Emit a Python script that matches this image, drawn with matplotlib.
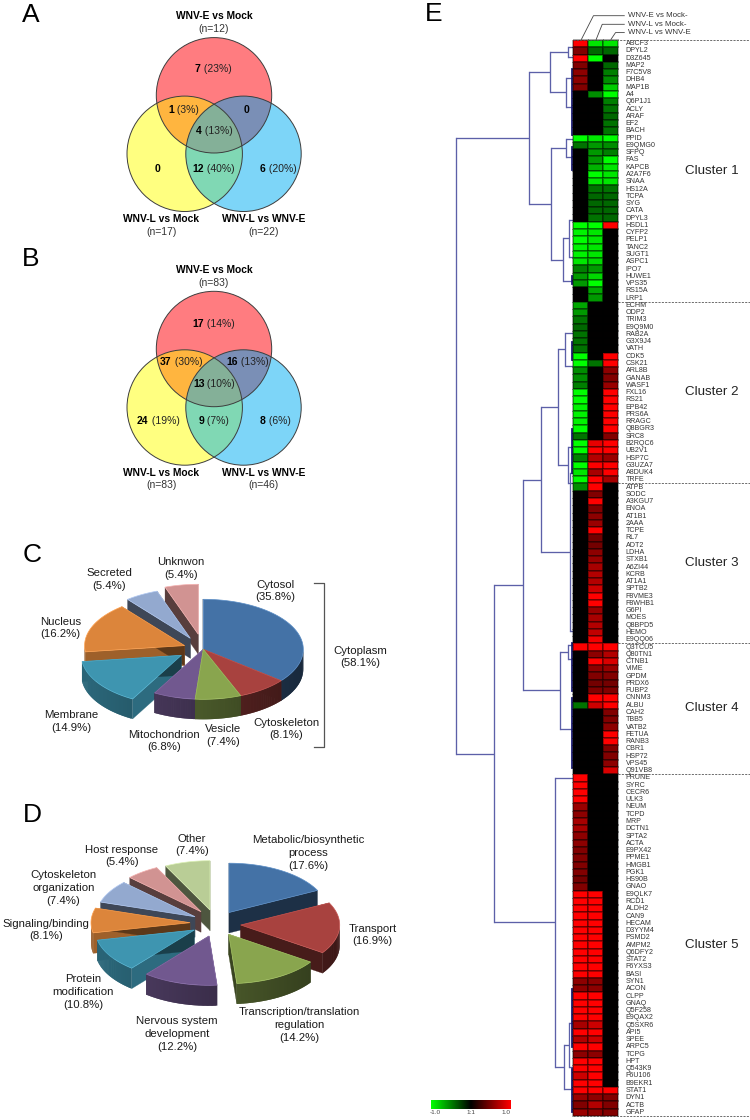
import numpy as np
import matplotlib
matplotlib.use("Agg")
import matplotlib.pyplot as plt
from matplotlib.colors import LinearSegmentedColormap, to_rgb
from matplotlib.patches import Circle, Polygon

plt.rcParams["font.family"] = ["Liberation Sans", "DejaVu Sans"]

# venn panels: E only, E+L, E+LvE, all three, L only, L+LvE, LvE only
venn_a_counts = [7, 1, 0, 4, 0, 12, 6]
venn_a_pct = [23, 3, None, 13, None, 40, 20]
venn_a_n = [12, 17, 22]
venn_b_counts = [17, 37, 16, 13, 24, 9, 8]
venn_b_pct = [14, 30, 13, 10, 19, 7, 6]
venn_b_n = [83, 83, 46]
venn_names = ["WNV-E vs Mock", "WNV-L vs Mock", "WNV-L vs WNV-E"]

# pies, clockwise from the top
loc_names = ["Cytosol", "Cytoskeleton", "Vesicle", "Mitochondrion", "Membrane",
             "Nucleus", "Secreted", "Unknwon"]
loc_values = [35.8, 8.1, 7.4, 6.8, 14.9, 16.2, 5.4, 5.4]
func_names = ["Metabolic/biosynthetic\nprocess", "Transport",
              "Transcription/translation\nregulation", "Nervous system\ndevelopment",
              "Protein\nmodification", "Signaling/binding",
              "Cytoskeleton\norganization", "Host response", "Other"]
func_values = [17.6, 16.9, 14.2, 12.2, 10.8, 8.1, 7.4, 5.4, 7.4]

# heatmap
proteins = [
    "ABCF3", "DPYL2", "D3Z645", "MAP2", "F7C5V8", "DHB4", "MAP1B", "A4", "Q6P1J1", "ACLY",
    "ARAF", "EF2", "BACH", "PPID", "E9QMG0", "SFPQ", "FAS", "KAPCB", "A2A7F6", "SNAA",
    "HS12A", "TCPA", "SYG", "CATA", "DPYL3", "HSDL1", "CYFP2", "PELP1", "TANC2", "SUGT1",
    "ASPC1", "IPO7", "HUWE1", "VPS35", "RS15A", "LRP1",
    "ECHM", "ODP2", "TRIM3", "E9Q9M0", "RAB2A", "G3X9J4", "VATH", "CDK5", "CSK21", "ARL8B",
    "GANAB", "WASF1", "FXL16", "RS21", "EPB42", "PRS6A", "RRAGC", "Q8BGR3", "SRC8", "B2RQC6",
    "UB2V1", "HSP7C", "G3UZA7", "A8DUK4", "TRFE",
    "ATPB", "SODC", "A3KGU7", "ENOA", "AT1B1", "2AAA", "TCPE", "RL7", "ADT2", "LDHA",
    "STXB1", "A6ZI44", "KCRB", "AT1A1", "SPTB2", "F8VME3", "F8WHB1", "G6PI", "MOES", "Q8BPD5",
    "HEMO", "E9QQ06",
    "Q3TCU5", "Q80TN1", "CTNB1", "VIME", "GPDM", "PRDX6", "FUBP2", "CNNM3", "ALBU", "CAH2",
    "TBB5", "VATB2", "FETUA", "RANB3", "CBR1", "HSP72", "VPS45", "Q91VB8",
    "PRUNE", "SYRC", "CECR6", "ULK3", "NEUM", "TCPD", "MRP", "DCTN1", "SPTA2", "ACTA",
    "E9PX42", "PPME1", "HMGB1", "PGK1", "HS90B", "GNAO", "E9QLK7", "RCD1", "ALDH2", "CAN9",
    "HECAM", "D3YYM4", "PSMD2", "AMPM2", "Q6DFY2", "STAT2", "F6YXS3", "BASI", "SYN1", "ACON",
    "CLPP", "GNAQ", "Q5F258", "E9QAX2", "Q5SXR6", "API5", "SPEE", "ARPC5", "TCPG", "HPT",
    "Q543K9", "F6U106", "B9EKR1", "STAT1", "DYN1", "ACTB", "GFAP",
]
e_vs_mock = [
    1, .5, 1, .5, .55, .55, .5, 0, 0, 0, 0, 0, 0, -1, -.45, 0, 0, 0, 0, 0,
    0, 0, 0, 0, 0, -1, -.95, -1, -.95, -.95, -.9, -.5, -.6, -.6, 0, 0,
    -.65, -.6, -.45, -.4, -.45, -.45, -.45, -1, -1, -.55, -.55, -.5, -1, -1, -.95, -.95, -.95, -1,
    -.45, -1, -1, -.5, -1, -.9, -1,
    -.55, 0, 0, 0, 0, 0, 0, 0, 0, 0, 0, 0, 0, 0, 0, 0, 0, 0, 0, 0, 0, 0,
    1, 0, 0, 0, 0, 0, 0, 0, -.45, 0, 0, 0, 0, 0, 0, 0, 0, 0,
    1, 1, 1, 1, .6, .55, .65, .65, .55, .55, .5, .5, .5, .5, .45, .5,
    1, 1, 1, 1, 1, 1, 1, 1, 1, 1, 1, 1, .55, .55, 1, 1, 1, 1, .65, 1, .7, 1, .55, 1,
    1, .8, 1, 1, .6, .5, .6,
]
l_vs_mock = [
    -.9, -.4, -1, 0, 0, 0, 0, -.55, 0, 0, 0, 0, 0, -.9, -.6, -.6, -.6, -.7, -1, -.9,
    -.45, -.4, -.4, -.4, -.45, -1, -.9, -.9, -.9, -.9, -.85, -.6, -.85, -1, -.65, -.6,
    0, 0, 0, 0, 0, 0, 0, 0, -.45, 0, 0, 0, 0, 0, 0, 0, 0, 0,
    0, .9, 1, .7, 1, .65, 1,
    1, .5, 1, .5, .55, .6, 1, .45, .45, .55, .6, .65, .7, .7, .8, 1, 1, .6, .65, .7, .75, .95,
    1, .55, 1, .55, .5, .45, .5, 1, .8, 0, 0, 0, 0, 0, 0, 0, 0, 0,
    0, 0, 0, 0, 0, 0, 0, 0, 0, 0, 0, 0, 0, 0, 0, 0,
    1, 1, 1, 1, 1, 1, 1, 1, 1, 1, 1, 1, .55, .55, 1, 1, 1, 1, .8, 1, .8, 1, .55, 1,
    1, 1, 1, 1, .55, .7, .55,
]
l_vs_e = [
    -.9, -.4, 0, -.4, -.5, -.55, -.8, -1, -.5, -.45, -.4, -.45, -.45, -1, -.55, -.5, -1, -.9, -.9, -.9,
    -.45, -.4, -.4, -.4, -.4, 1, 0, 0, 0, 0, 0, 0, 0, 0, 0, 0,
    0, 0, 0, 0, 0, 0, 0, 1, 1, .55, .5, .6, 1, 1, 1, 1, 1, 1,
    .5, 1, 1, .6, 1, 1, .65,
    0, 0, 0, 0, 0, 0, 0, 0, 0, 0, 0, 0, 0, 0, 0, 0, 0, 0, 0, 0, 0, 0,
    1, .7, .85, .6, .5, .45, .5, 1, 1, .5, .5, .55, 1, 1, .5, .5, .55, .85,
    0, 0, 0, 0, 0, 0, 0, 0, 0, 0, 0, 0, 0, 0, 0, 0,
    0, 0, 0, 0, 0, 0, 0, 0, 0, 0, 0, 0, 0, 0, 0, 0, 0, 0, 0, 0, 0, 0, 0, 0,
    0, 0, 0, 1, .5, .5, .5,
]
cluster_names = ["Cluster 1", "Cluster 2", "Cluster 3", "Cluster 4", "Cluster 5"]
cluster_sizes = [36, 25, 22, 18, 47]
column_names = ["WNV-E vs Mock-", "WNV-L vs Mock-", "WNV-L vs WNV-E"]

# dendrogram as nested (distance, child, child), a plain number is a row position
dendrogram = (117,
              (44,
               (23, (5, 0.46, 1.84), (7, 4.73, 8.7)),
               (22, (7, 13.1, 15.6), (10, (4, 24.3, 29.3), 32.65))),
              (79,
               (50,
                (32,
                 (15, (8, 39.8, 44.3), (5, 55.5, 60.5)),
                 (3, 59.06, 80.8)),
                (13, (5, 82.7, 84.6), 94.3)),
               (18, 101.0, (9, (4, 134.7, 140.8), 143.8))))
tight_rows = [(3.5, 12.5), (14.2, 17.4), (32, 33), (41, 43.5), (53, 59), (82.5, 89),
              (90, 99.6), (130, 138), (141, 147)]

TEXT = "#1a1a1a"
PIE_COLORS = ["#4472a6", "#a8423f", "#89a54e", "#71588f", "#3e95b0", "#dc853b",
              "#93a9cf", "#d19392", "#b9cd96"]

fig = plt.figure(figsize=(7.5, 11.2), dpi=100)
ax = fig.add_axes([0, 0, 1, 1])
ax.set_xlim(0, 750)
ax.set_ylim(1120, 0)
ax.axis("off")


def put(x, y, s, size=8.2, **kw):
    kw.setdefault("color", TEXT)
    ax.text(x, y, s, fontsize=size, ha="center", va="center", linespacing=1.36, **kw)


def count_label(x, y, count, pct):
    bold = ax.text(x, y, str(count), fontsize=7.5, fontweight="bold", color="black",
                   ha="left", va="center", zorder=6)
    if pct is None:
        bold.set_ha("center")
        return
    reg = ax.text(x, y, f" ({pct}%)", fontsize=7.5, color="#222222", ha="left", va="center", zorder=6)
    r = fig.canvas.get_renderer()
    w1 = bold.get_window_extent(r).width
    w2 = reg.get_window_extent(r).width
    left = x - (w1 + w2) / 2
    bold.set_x(left)
    reg.set_x(left + w1)


def venn(cy_top, counts, pct, ns, label_pos, title_y):
    r = 57.7
    top = (214, cy_top)
    left = (184.7, cy_top + 58.5)
    right = (243.5, cy_top + 58.5)
    fills = [(top, "#ff7c80"), (left, "#ffff80"), (right, "#7dd5f8")]
    for c, col in fills:
        ax.add_patch(Circle(c, r, fc=col, ec="none", zorder=2))
    # overlaps get their own fill, clipped to the partner circle
    for a, b, col in [(top, left, "#ffb53f"), (top, right, "#7a8fb6"), (left, right, "#80d8b4")]:
        p = Circle(a, r, fc=col, ec="none", zorder=3)
        ax.add_patch(p)
        p.set_clip_path(Circle(b, r, transform=ax.transData))
    p = Circle(top, r, fc="#84b098", ec="none", zorder=4)
    ax.add_patch(p)
    # centre region: top circle clipped to the lens of the two lower circles
    th = np.linspace(0, 2 * np.pi, 400)
    xs = left[0] + r * np.cos(th)
    ys = left[1] + r * np.sin(th)
    keep = (xs - right[0]) ** 2 + (ys - right[1]) ** 2 <= r * r
    lens_a = np.c_[xs[keep], ys[keep]]
    xs = right[0] + r * np.cos(th)
    ys = right[1] + r * np.sin(th)
    keep = (xs - left[0]) ** 2 + (ys - left[1]) ** 2 <= r * r
    lens_b = np.c_[xs[keep], ys[keep]]
    lens = np.r_[lens_a, lens_b]
    ang = np.arctan2(lens[:, 1] - left[1], lens[:, 0] - (left[0] + right[0]) / 2)
    lens = lens[np.argsort(ang)]
    p.set_clip_path(Polygon(lens, closed=True, transform=ax.transData))
    for c, col in fills:
        ax.add_patch(Circle(c, r, fc="none", ec="#3d3d3d", lw=0.7, zorder=5))
    for (x, y), cnt, pc in zip(label_pos, counts, pct):
        count_label(x, y, cnt, pc)
    for name, n, (tx, ty) in zip(venn_names, ns, title_y):
        put(tx, ty, name, size=7.4, fontweight="bold", color="black")
        put(tx, ty + 12.5, f"(n={n})", size=7.5, color="#333333")


def draw_pie(values, colors, center, shifts, rx, ry, depth):
    edges = np.r_[0, np.cumsum(values)] / np.sum(values) * 2 * np.pi
    slices = []
    for i in range(len(values)):
        th = np.linspace(edges[i], edges[i + 1], 60)
        cx, cy = center[0] + shifts[i][0], center[1] + shifts[i][1]
        arc = np.c_[cx + rx * np.sin(th), cy - ry * np.cos(th)]
        slices.append((np.r_[arc[:, 1], cy].mean(), cx, cy, arc, th, colors[i]))
    for _, cx, cy, arc, th, col in sorted(slices, key=lambda s: s[0]):
        base = np.array(to_rgb(col))
        for tip, angle in ((arc[0], th[0]), (arc[-1], None)):
            # a start edge in the lower left faces the light
            shade = 0.72 if angle is not None and np.pi < angle < 1.5 * np.pi else 0.42
            quad = [(cx, cy), tip, (tip[0], tip[1] + depth), (cx, cy + depth)]
            ax.add_patch(Polygon(quad, fc=base * shade, ec=base * shade, lw=0.2, zorder=3))
        for k in range(len(th) - 1):
            if np.cos((th[k] + th[k + 1]) / 2) > 0:
                continue
            shade = np.clip(0.53 - 0.17 * np.sin(th[k]), 0, 1)
            p0, p1 = arc[k], arc[min(k + 2, len(th) - 1)]
            quad = [p0, p1, (p1[0], p1[1] + depth), (p0[0], p0[1] + depth)]
            ax.add_patch(Polygon(quad, fc=base * shade, ec="none", zorder=3))
        top = np.r_[[(cx, cy)], arc]
        ax.add_patch(Polygon(top, fc=col, ec=np.minimum(base * 1.1 + 0.06, 1), lw=0.5, zorder=3))


# panels A and B
venn(95.3, venn_a_counts, venn_a_pct, venn_a_n,
     [(213.3, 68.7), (184, 110.3), (246.7, 110.3), (214.3, 131), (157.7, 168.7),
      (213.7, 168.7), (278, 168.7)],
     [(214, 16), (161.3, 219.3), (263.7, 219.3)])
venn(349, venn_b_counts, venn_b_pct, venn_b_n,
     [(214, 324.3), (181.3, 362.3), (247.7, 362.3), (214, 384.3), (158.3, 420.7),
      (214, 420.7), (275, 420.7)],
     [(214, 270), (161.3, 473), (263.7, 473)])

# panel C
draw_pie(loc_values, PIE_COLORS[:8], (203.3, 649.3),
         [(0, 0), (0, 0), (0, 0), (0, 0), (-22, 6), (-18.7, -3.7), (-13, -11), (-5, -15)],
         100, 50, 20)
loc_pos = [(275.3, 591), (286, 729), (223.3, 735.7), (164, 741), (71.7, 721.7),
           (60.7, 628), (109, 579.3), (181, 568.3)]
for (x, y), n, v in zip(loc_pos, loc_names, loc_values):
    put(x, y, f"{n}\n({v}%)")
ax.plot([314, 324, 324, 314], [583.3, 583.3, 747.3, 747.3], color="#555555", lw=0.9)
put(360, 657, "Cytoplasm\n(58.1%)")

# panel D
draw_pie(func_values, PIE_COLORS, (210, 918),
         [(19, -5.5), (30.7, 7), (18.7, 16.3), (-1, 18), (-15.7, 12), (-20, 4.7),
          (-15, -1.3), (-9, -6.3), (0, -8)],
         99, 49.3, 20.5)
func_pos = [(308.3, 852.7), (372.7, 935), (299, 1025), (177, 1034), (83, 991.7),
            (46, 930), (63.3, 887.7), (121.7, 856), (191.7, 845)]
for (x, y), n, v in zip(func_pos, func_names, func_values):
    put(x, y, f"{n}\n({v}%)")

# panel letters
for s, x, y in [("A", 31, 15), ("B", 31, 259), ("C", 32, 555.5), ("D", 32, 815.5), ("E", 434, 14)]:
    put(x, y, s, size=19, color="black")

# panel E heatmap
Y0, ROW = 40.0, 7.27
X0, COL = 573.3, 14.8
n_rows = len(proteins)
mat = np.column_stack([e_vs_mock, l_vs_mock, l_vs_e])
gmr = LinearSegmentedColormap.from_list("gmr", ["#00ff00", "#000000", "#ff0000"])
xe = X0 + COL * np.arange(4)
ye = Y0 + ROW * np.arange(n_rows + 1)
ax.pcolormesh(xe, ye, mat, cmap=gmr, vmin=-1, vmax=1, edgecolors="#00000055", linewidth=0.3, zorder=3)

for i, name in enumerate(proteins):
    ax.text(625.7, Y0 + ROW * (i + 0.5), name, fontsize=5.15, color="#333333",
            ha="left", va="center")

# column header leaders
header_y = [15.7, 24.3, 32.6]
for j, (name, y) in enumerate(zip(column_names, header_y)):
    xc = X0 + COL * (j + 0.55)
    ax.plot([xc, xc + [12, 6, 4.5][j], 624.3], [39.3, y, y], color="#444444", lw=0.6)
    ax.text(627.7, y, name, fontsize=5.7, color="#333333", ha="left", va="center")

# cluster boundaries and names
bounds = np.r_[0, np.cumsum(cluster_sizes)]
for k, b in enumerate(bounds):
    left = X0 if k in (0, len(bounds) - 1) else 618
    ax.plot([left, 750], [Y0 + ROW * b] * 2, color="#555555", lw=0.6, ls=(0, (2.5, 1.5)), zorder=4)
for name, y in zip(cluster_names, [171, 392, 563, 708, 945]):
    ax.text(685, y, name, fontsize=9.6, color="#222222", ha="left", va="center")


def row_y(r):
    return Y0 + ROW * (r + 0.5)


def draw_tree(node):
    if not isinstance(node, tuple):
        return X0, row_y(node)
    x = X0 - node[0]
    ys = []
    for child in node[1:]:
        cx, cy = draw_tree(child)
        ax.plot([x, cx], [cy, cy], color="#5c60a8", lw=0.95, zorder=2, solid_capstyle="butt")
        ys.append(cy)
    ax.plot([x, x], ys, color="#5c60a8", lw=0.95, zorder=2)
    return x, sum(ys) / 2


draw_tree(dendrogram)
for a, b in tight_rows:
    ax.plot([X0 - 1, X0 - 1], [row_y(a), row_y(b)], color="#1c1c78", lw=1.3, zorder=2)

# colour key
ax.imshow(np.linspace(-1, 1, 200)[None, :], cmap=gmr, aspect="auto",
          extent=[430.7, 510.7, 1108.7, 1100], zorder=3)
ax.set_xlim(0, 750)
ax.set_ylim(1120, 0)
for x, s in [(435, "-1.0"), (470.5, "1:1"), (506, "1.0")]:
    ax.text(x, 1113, s, fontsize=4.6, color="#444444", ha="center", va="center")

fig.savefig("out.png", dpi=100)
